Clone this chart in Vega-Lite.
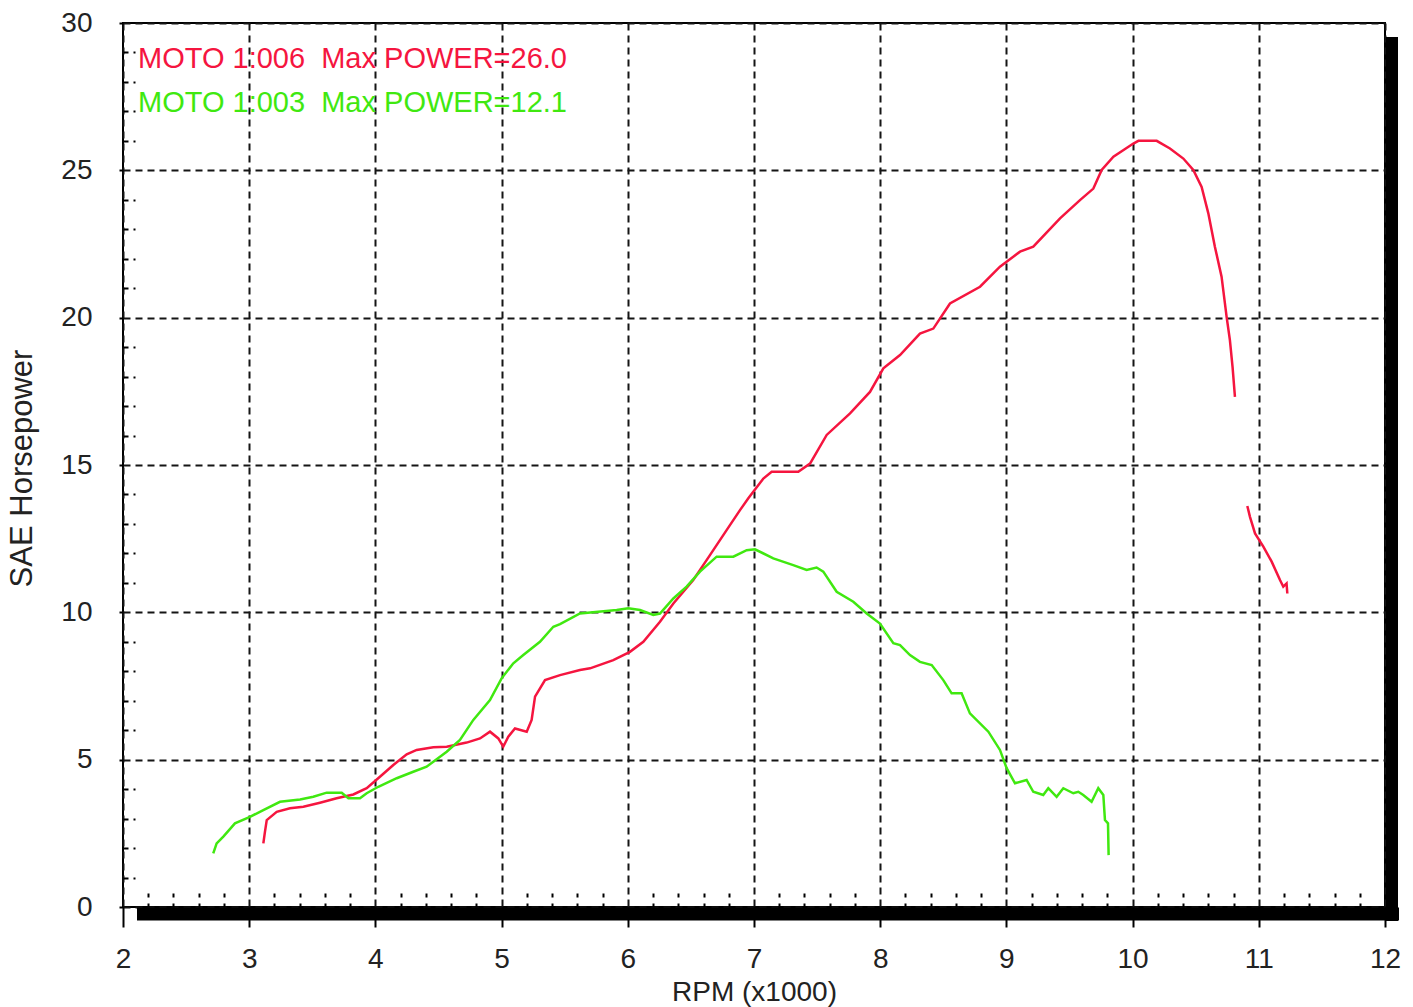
{
  "$schema": "https://vega.github.io/schema/vega-lite/v6.json",
  "width": 1262,
  "height": 884,
  "autosize": {"type": "none"},
  "padding": {"left": 123, "top": 23, "right": 28, "bottom": 100},
  "background": "white",
  "config": {
    "view": {"stroke": "#000", "strokeWidth": 2},
    "font": "Liberation Sans"
  },
  "datasets": {
    "curves": [
      {"run": "MOTO 1:006\u00a0 Max POWER=26.0", "seg": "a", "rpm": 3.112, "hp": 2.16},
      {"run": "MOTO 1:006\u00a0 Max POWER=26.0", "seg": "a", "rpm": 3.125, "hp": 2.56},
      {"run": "MOTO 1:006\u00a0 Max POWER=26.0", "seg": "a", "rpm": 3.139, "hp": 2.95},
      {"run": "MOTO 1:006\u00a0 Max POWER=26.0", "seg": "a", "rpm": 3.218, "hp": 3.23},
      {"run": "MOTO 1:006\u00a0 Max POWER=26.0", "seg": "a", "rpm": 3.323, "hp": 3.35},
      {"run": "MOTO 1:006\u00a0 Max POWER=26.0", "seg": "a", "rpm": 3.429, "hp": 3.40},
      {"run": "MOTO 1:006\u00a0 Max POWER=26.0", "seg": "a", "rpm": 3.561, "hp": 3.54},
      {"run": "MOTO 1:006\u00a0 Max POWER=26.0", "seg": "a", "rpm": 3.693, "hp": 3.69},
      {"run": "MOTO 1:006\u00a0 Max POWER=26.0", "seg": "a", "rpm": 3.825, "hp": 3.82},
      {"run": "MOTO 1:006\u00a0 Max POWER=26.0", "seg": "a", "rpm": 3.931, "hp": 4.03},
      {"run": "MOTO 1:006\u00a0 Max POWER=26.0", "seg": "a", "rpm": 4.036, "hp": 4.42},
      {"run": "MOTO 1:006\u00a0 Max POWER=26.0", "seg": "a", "rpm": 4.142, "hp": 4.82},
      {"run": "MOTO 1:006\u00a0 Max POWER=26.0", "seg": "a", "rpm": 4.248, "hp": 5.18},
      {"run": "MOTO 1:006\u00a0 Max POWER=26.0", "seg": "a", "rpm": 4.327, "hp": 5.33},
      {"run": "MOTO 1:006\u00a0 Max POWER=26.0", "seg": "a", "rpm": 4.459, "hp": 5.42},
      {"run": "MOTO 1:006\u00a0 Max POWER=26.0", "seg": "a", "rpm": 4.565, "hp": 5.44},
      {"run": "MOTO 1:006\u00a0 Max POWER=26.0", "seg": "a", "rpm": 4.723, "hp": 5.58},
      {"run": "MOTO 1:006\u00a0 Max POWER=26.0", "seg": "a", "rpm": 4.829, "hp": 5.72},
      {"run": "MOTO 1:006\u00a0 Max POWER=26.0", "seg": "a", "rpm": 4.908, "hp": 5.95},
      {"run": "MOTO 1:006\u00a0 Max POWER=26.0", "seg": "a", "rpm": 4.974, "hp": 5.72},
      {"run": "MOTO 1:006\u00a0 Max POWER=26.0", "seg": "a", "rpm": 5.013, "hp": 5.44},
      {"run": "MOTO 1:006\u00a0 Max POWER=26.0", "seg": "a", "rpm": 5.053, "hp": 5.78},
      {"run": "MOTO 1:006\u00a0 Max POWER=26.0", "seg": "a", "rpm": 5.106, "hp": 6.06},
      {"run": "MOTO 1:006\u00a0 Max POWER=26.0", "seg": "a", "rpm": 5.199, "hp": 5.95},
      {"run": "MOTO 1:006\u00a0 Max POWER=26.0", "seg": "a", "rpm": 5.238, "hp": 6.35},
      {"run": "MOTO 1:006\u00a0 Max POWER=26.0", "seg": "a", "rpm": 5.265, "hp": 7.14},
      {"run": "MOTO 1:006\u00a0 Max POWER=26.0", "seg": "a", "rpm": 5.344, "hp": 7.70},
      {"run": "MOTO 1:006\u00a0 Max POWER=26.0", "seg": "a", "rpm": 5.463, "hp": 7.87},
      {"run": "MOTO 1:006\u00a0 Max POWER=26.0", "seg": "a", "rpm": 5.621, "hp": 8.04},
      {"run": "MOTO 1:006\u00a0 Max POWER=26.0", "seg": "a", "rpm": 5.701, "hp": 8.10},
      {"run": "MOTO 1:006\u00a0 Max POWER=26.0", "seg": "a", "rpm": 5.885, "hp": 8.38},
      {"run": "MOTO 1:006\u00a0 Max POWER=26.0", "seg": "a", "rpm": 6.017, "hp": 8.66},
      {"run": "MOTO 1:006\u00a0 Max POWER=26.0", "seg": "a", "rpm": 6.123, "hp": 9.00},
      {"run": "MOTO 1:006\u00a0 Max POWER=26.0", "seg": "a", "rpm": 6.255, "hp": 9.68},
      {"run": "MOTO 1:006\u00a0 Max POWER=26.0", "seg": "a", "rpm": 6.361, "hp": 10.30},
      {"run": "MOTO 1:006\u00a0 Max POWER=26.0", "seg": "a", "rpm": 6.519, "hp": 11.10},
      {"run": "MOTO 1:006\u00a0 Max POWER=26.0", "seg": "a", "rpm": 6.651, "hp": 11.94},
      {"run": "MOTO 1:006\u00a0 Max POWER=26.0", "seg": "a", "rpm": 6.783, "hp": 12.79},
      {"run": "MOTO 1:006\u00a0 Max POWER=26.0", "seg": "a", "rpm": 6.889, "hp": 13.47},
      {"run": "MOTO 1:006\u00a0 Max POWER=26.0", "seg": "a", "rpm": 6.955, "hp": 13.87},
      {"run": "MOTO 1:006\u00a0 Max POWER=26.0", "seg": "a", "rpm": 7.074, "hp": 14.54},
      {"run": "MOTO 1:006\u00a0 Max POWER=26.0", "seg": "a", "rpm": 7.140, "hp": 14.77},
      {"run": "MOTO 1:006\u00a0 Max POWER=26.0", "seg": "a", "rpm": 7.351, "hp": 14.77},
      {"run": "MOTO 1:006\u00a0 Max POWER=26.0", "seg": "a", "rpm": 7.444, "hp": 15.05},
      {"run": "MOTO 1:006\u00a0 Max POWER=26.0", "seg": "a", "rpm": 7.576, "hp": 16.02},
      {"run": "MOTO 1:006\u00a0 Max POWER=26.0", "seg": "a", "rpm": 7.761, "hp": 16.75},
      {"run": "MOTO 1:006\u00a0 Max POWER=26.0", "seg": "a", "rpm": 7.919, "hp": 17.48},
      {"run": "MOTO 1:006\u00a0 Max POWER=26.0", "seg": "a", "rpm": 8.025, "hp": 18.28},
      {"run": "MOTO 1:006\u00a0 Max POWER=26.0", "seg": "a", "rpm": 8.157, "hp": 18.73},
      {"run": "MOTO 1:006\u00a0 Max POWER=26.0", "seg": "a", "rpm": 8.315, "hp": 19.46},
      {"run": "MOTO 1:006\u00a0 Max POWER=26.0", "seg": "a", "rpm": 8.421, "hp": 19.63},
      {"run": "MOTO 1:006\u00a0 Max POWER=26.0", "seg": "a", "rpm": 8.553, "hp": 20.48},
      {"run": "MOTO 1:006\u00a0 Max POWER=26.0", "seg": "a", "rpm": 8.791, "hp": 21.05},
      {"run": "MOTO 1:006\u00a0 Max POWER=26.0", "seg": "a", "rpm": 8.949, "hp": 21.73},
      {"run": "MOTO 1:006\u00a0 Max POWER=26.0", "seg": "a", "rpm": 9.108, "hp": 22.24},
      {"run": "MOTO 1:006\u00a0 Max POWER=26.0", "seg": "a", "rpm": 9.213, "hp": 22.41},
      {"run": "MOTO 1:006\u00a0 Max POWER=26.0", "seg": "a", "rpm": 9.425, "hp": 23.37},
      {"run": "MOTO 1:006\u00a0 Max POWER=26.0", "seg": "a", "rpm": 9.583, "hp": 23.99},
      {"run": "MOTO 1:006\u00a0 Max POWER=26.0", "seg": "a", "rpm": 9.689, "hp": 24.38},
      {"run": "MOTO 1:006\u00a0 Max POWER=26.0", "seg": "a", "rpm": 9.755, "hp": 25.01},
      {"run": "MOTO 1:006\u00a0 Max POWER=26.0", "seg": "a", "rpm": 9.848, "hp": 25.46},
      {"run": "MOTO 1:006\u00a0 Max POWER=26.0", "seg": "a", "rpm": 10.006, "hp": 25.91},
      {"run": "MOTO 1:006\u00a0 Max POWER=26.0", "seg": "a", "rpm": 10.046, "hp": 26.00},
      {"run": "MOTO 1:006\u00a0 Max POWER=26.0", "seg": "a", "rpm": 10.191, "hp": 26.00},
      {"run": "MOTO 1:006\u00a0 Max POWER=26.0", "seg": "a", "rpm": 10.296, "hp": 25.74},
      {"run": "MOTO 1:006\u00a0 Max POWER=26.0", "seg": "a", "rpm": 10.402, "hp": 25.40},
      {"run": "MOTO 1:006\u00a0 Max POWER=26.0", "seg": "a", "rpm": 10.481, "hp": 25.01},
      {"run": "MOTO 1:006\u00a0 Max POWER=26.0", "seg": "a", "rpm": 10.547, "hp": 24.44},
      {"run": "MOTO 1:006\u00a0 Max POWER=26.0", "seg": "a", "rpm": 10.600, "hp": 23.54},
      {"run": "MOTO 1:006\u00a0 Max POWER=26.0", "seg": "a", "rpm": 10.652, "hp": 22.41},
      {"run": "MOTO 1:006\u00a0 Max POWER=26.0", "seg": "a", "rpm": 10.705, "hp": 21.39},
      {"run": "MOTO 1:006\u00a0 Max POWER=26.0", "seg": "a", "rpm": 10.745, "hp": 20.03},
      {"run": "MOTO 1:006\u00a0 Max POWER=26.0", "seg": "a", "rpm": 10.771, "hp": 19.24},
      {"run": "MOTO 1:006\u00a0 Max POWER=26.0", "seg": "a", "rpm": 10.792, "hp": 18.33},
      {"run": "MOTO 1:006\u00a0 Max POWER=26.0", "seg": "a", "rpm": 10.811, "hp": 17.31},
      {"run": "MOTO 1:006\u00a0 Max POWER=26.0", "seg": "b", "rpm": 10.909, "hp": 13.61},
      {"run": "MOTO 1:006\u00a0 Max POWER=26.0", "seg": "b", "rpm": 10.930, "hp": 13.24},
      {"run": "MOTO 1:006\u00a0 Max POWER=26.0", "seg": "b", "rpm": 10.970, "hp": 12.68},
      {"run": "MOTO 1:006\u00a0 Max POWER=26.0", "seg": "b", "rpm": 11.036, "hp": 12.23},
      {"run": "MOTO 1:006\u00a0 Max POWER=26.0", "seg": "b", "rpm": 11.102, "hp": 11.72},
      {"run": "MOTO 1:006\u00a0 Max POWER=26.0", "seg": "b", "rpm": 11.168, "hp": 11.10},
      {"run": "MOTO 1:006\u00a0 Max POWER=26.0", "seg": "b", "rpm": 11.194, "hp": 10.87},
      {"run": "MOTO 1:006\u00a0 Max POWER=26.0", "seg": "b", "rpm": 11.220, "hp": 10.98},
      {"run": "MOTO 1:006\u00a0 Max POWER=26.0", "seg": "b", "rpm": 11.226, "hp": 10.64},
      {"run": "MOTO 1:003\u00a0 Max POWER=12.1", "seg": "a", "rpm": 2.715, "hp": 1.82},
      {"run": "MOTO 1:003\u00a0 Max POWER=12.1", "seg": "a", "rpm": 2.742, "hp": 2.16},
      {"run": "MOTO 1:003\u00a0 Max POWER=12.1", "seg": "a", "rpm": 2.795, "hp": 2.39},
      {"run": "MOTO 1:003\u00a0 Max POWER=12.1", "seg": "a", "rpm": 2.887, "hp": 2.84},
      {"run": "MOTO 1:003\u00a0 Max POWER=12.1", "seg": "a", "rpm": 3.006, "hp": 3.06},
      {"run": "MOTO 1:003\u00a0 Max POWER=12.1", "seg": "a", "rpm": 3.112, "hp": 3.29},
      {"run": "MOTO 1:003\u00a0 Max POWER=12.1", "seg": "a", "rpm": 3.244, "hp": 3.57},
      {"run": "MOTO 1:003\u00a0 Max POWER=12.1", "seg": "a", "rpm": 3.403, "hp": 3.65},
      {"run": "MOTO 1:003\u00a0 Max POWER=12.1", "seg": "a", "rpm": 3.508, "hp": 3.74},
      {"run": "MOTO 1:003\u00a0 Max POWER=12.1", "seg": "a", "rpm": 3.614, "hp": 3.88},
      {"run": "MOTO 1:003\u00a0 Max POWER=12.1", "seg": "a", "rpm": 3.733, "hp": 3.88},
      {"run": "MOTO 1:003\u00a0 Max POWER=12.1", "seg": "a", "rpm": 3.786, "hp": 3.69},
      {"run": "MOTO 1:003\u00a0 Max POWER=12.1", "seg": "a", "rpm": 3.878, "hp": 3.69},
      {"run": "MOTO 1:003\u00a0 Max POWER=12.1", "seg": "a", "rpm": 3.931, "hp": 3.86},
      {"run": "MOTO 1:003\u00a0 Max POWER=12.1", "seg": "a", "rpm": 4.023, "hp": 4.08},
      {"run": "MOTO 1:003\u00a0 Max POWER=12.1", "seg": "a", "rpm": 4.169, "hp": 4.37},
      {"run": "MOTO 1:003\u00a0 Max POWER=12.1", "seg": "a", "rpm": 4.300, "hp": 4.59},
      {"run": "MOTO 1:003\u00a0 Max POWER=12.1", "seg": "a", "rpm": 4.406, "hp": 4.76},
      {"run": "MOTO 1:003\u00a0 Max POWER=12.1", "seg": "a", "rpm": 4.565, "hp": 5.27},
      {"run": "MOTO 1:003\u00a0 Max POWER=12.1", "seg": "a", "rpm": 4.670, "hp": 5.67},
      {"run": "MOTO 1:003\u00a0 Max POWER=12.1", "seg": "a", "rpm": 4.776, "hp": 6.35},
      {"run": "MOTO 1:003\u00a0 Max POWER=12.1", "seg": "a", "rpm": 4.908, "hp": 7.02},
      {"run": "MOTO 1:003\u00a0 Max POWER=12.1", "seg": "a", "rpm": 5.000, "hp": 7.76},
      {"run": "MOTO 1:003\u00a0 Max POWER=12.1", "seg": "a", "rpm": 5.093, "hp": 8.27},
      {"run": "MOTO 1:003\u00a0 Max POWER=12.1", "seg": "a", "rpm": 5.172, "hp": 8.55},
      {"run": "MOTO 1:003\u00a0 Max POWER=12.1", "seg": "a", "rpm": 5.304, "hp": 9.00},
      {"run": "MOTO 1:003\u00a0 Max POWER=12.1", "seg": "a", "rpm": 5.410, "hp": 9.51},
      {"run": "MOTO 1:003\u00a0 Max POWER=12.1", "seg": "a", "rpm": 5.463, "hp": 9.60},
      {"run": "MOTO 1:003\u00a0 Max POWER=12.1", "seg": "a", "rpm": 5.621, "hp": 9.96},
      {"run": "MOTO 1:003\u00a0 Max POWER=12.1", "seg": "a", "rpm": 5.912, "hp": 10.08},
      {"run": "MOTO 1:003\u00a0 Max POWER=12.1", "seg": "a", "rpm": 6.004, "hp": 10.14},
      {"run": "MOTO 1:003\u00a0 Max POWER=12.1", "seg": "a", "rpm": 6.097, "hp": 10.08},
      {"run": "MOTO 1:003\u00a0 Max POWER=12.1", "seg": "a", "rpm": 6.202, "hp": 9.91},
      {"run": "MOTO 1:003\u00a0 Max POWER=12.1", "seg": "a", "rpm": 6.255, "hp": 9.96},
      {"run": "MOTO 1:003\u00a0 Max POWER=12.1", "seg": "a", "rpm": 6.361, "hp": 10.47},
      {"run": "MOTO 1:003\u00a0 Max POWER=12.1", "seg": "a", "rpm": 6.466, "hp": 10.87},
      {"run": "MOTO 1:003\u00a0 Max POWER=12.1", "seg": "a", "rpm": 6.572, "hp": 11.38},
      {"run": "MOTO 1:003\u00a0 Max POWER=12.1", "seg": "a", "rpm": 6.704, "hp": 11.89},
      {"run": "MOTO 1:003\u00a0 Max POWER=12.1", "seg": "a", "rpm": 6.836, "hp": 11.89},
      {"run": "MOTO 1:003\u00a0 Max POWER=12.1", "seg": "a", "rpm": 6.942, "hp": 12.11},
      {"run": "MOTO 1:003\u00a0 Max POWER=12.1", "seg": "a", "rpm": 7.008, "hp": 12.14},
      {"run": "MOTO 1:003\u00a0 Max POWER=12.1", "seg": "a", "rpm": 7.153, "hp": 11.83},
      {"run": "MOTO 1:003\u00a0 Max POWER=12.1", "seg": "a", "rpm": 7.311, "hp": 11.60},
      {"run": "MOTO 1:003\u00a0 Max POWER=12.1", "seg": "a", "rpm": 7.417, "hp": 11.44},
      {"run": "MOTO 1:003\u00a0 Max POWER=12.1", "seg": "a", "rpm": 7.496, "hp": 11.52},
      {"run": "MOTO 1:003\u00a0 Max POWER=12.1", "seg": "a", "rpm": 7.549, "hp": 11.38},
      {"run": "MOTO 1:003\u00a0 Max POWER=12.1", "seg": "a", "rpm": 7.655, "hp": 10.70},
      {"run": "MOTO 1:003\u00a0 Max POWER=12.1", "seg": "a", "rpm": 7.787, "hp": 10.36},
      {"run": "MOTO 1:003\u00a0 Max POWER=12.1", "seg": "a", "rpm": 7.893, "hp": 9.96},
      {"run": "MOTO 1:003\u00a0 Max POWER=12.1", "seg": "a", "rpm": 7.998, "hp": 9.62},
      {"run": "MOTO 1:003\u00a0 Max POWER=12.1", "seg": "a", "rpm": 8.104, "hp": 8.95},
      {"run": "MOTO 1:003\u00a0 Max POWER=12.1", "seg": "a", "rpm": 8.157, "hp": 8.89},
      {"run": "MOTO 1:003\u00a0 Max POWER=12.1", "seg": "a", "rpm": 8.236, "hp": 8.55},
      {"run": "MOTO 1:003\u00a0 Max POWER=12.1", "seg": "a", "rpm": 8.315, "hp": 8.32},
      {"run": "MOTO 1:003\u00a0 Max POWER=12.1", "seg": "a", "rpm": 8.408, "hp": 8.21},
      {"run": "MOTO 1:003\u00a0 Max POWER=12.1", "seg": "a", "rpm": 8.500, "hp": 7.70},
      {"run": "MOTO 1:003\u00a0 Max POWER=12.1", "seg": "a", "rpm": 8.566, "hp": 7.25},
      {"run": "MOTO 1:003\u00a0 Max POWER=12.1", "seg": "a", "rpm": 8.645, "hp": 7.25},
      {"run": "MOTO 1:003\u00a0 Max POWER=12.1", "seg": "a", "rpm": 8.711, "hp": 6.57},
      {"run": "MOTO 1:003\u00a0 Max POWER=12.1", "seg": "a", "rpm": 8.857, "hp": 5.95},
      {"run": "MOTO 1:003\u00a0 Max POWER=12.1", "seg": "a", "rpm": 8.949, "hp": 5.33},
      {"run": "MOTO 1:003\u00a0 Max POWER=12.1", "seg": "a", "rpm": 9.002, "hp": 4.71},
      {"run": "MOTO 1:003\u00a0 Max POWER=12.1", "seg": "a", "rpm": 9.068, "hp": 4.20},
      {"run": "MOTO 1:003\u00a0 Max POWER=12.1", "seg": "a", "rpm": 9.160, "hp": 4.31},
      {"run": "MOTO 1:003\u00a0 Max POWER=12.1", "seg": "a", "rpm": 9.213, "hp": 3.91},
      {"run": "MOTO 1:003\u00a0 Max POWER=12.1", "seg": "a", "rpm": 9.292, "hp": 3.80},
      {"run": "MOTO 1:003\u00a0 Max POWER=12.1", "seg": "a", "rpm": 9.332, "hp": 4.03},
      {"run": "MOTO 1:003\u00a0 Max POWER=12.1", "seg": "a", "rpm": 9.398, "hp": 3.74},
      {"run": "MOTO 1:003\u00a0 Max POWER=12.1", "seg": "a", "rpm": 9.451, "hp": 4.03},
      {"run": "MOTO 1:003\u00a0 Max POWER=12.1", "seg": "a", "rpm": 9.530, "hp": 3.86},
      {"run": "MOTO 1:003\u00a0 Max POWER=12.1", "seg": "a", "rpm": 9.570, "hp": 3.91},
      {"run": "MOTO 1:003\u00a0 Max POWER=12.1", "seg": "a", "rpm": 9.609, "hp": 3.80},
      {"run": "MOTO 1:003\u00a0 Max POWER=12.1", "seg": "a", "rpm": 9.675, "hp": 3.57},
      {"run": "MOTO 1:003\u00a0 Max POWER=12.1", "seg": "a", "rpm": 9.728, "hp": 4.03},
      {"run": "MOTO 1:003\u00a0 Max POWER=12.1", "seg": "a", "rpm": 9.768, "hp": 3.80},
      {"run": "MOTO 1:003\u00a0 Max POWER=12.1", "seg": "a", "rpm": 9.781, "hp": 2.95},
      {"run": "MOTO 1:003\u00a0 Max POWER=12.1", "seg": "a", "rpm": 9.805, "hp": 2.84},
      {"run": "MOTO 1:003\u00a0 Max POWER=12.1", "seg": "a", "rpm": 9.81, "hp": 1.76}
    ]
  },
  "data": {"name": "curves"},
  "layer": [
    {
      "mark": {"type": "line", "strokeWidth": 2.5, "interpolate": "linear"},
      "encoding": {
        "x": {
          "field": "rpm", "type": "quantitative",
          "scale": {"domain": [2, 12], "nice": false, "zero": false},
          "axis": {
            "orient": "bottom",
            "values": [2, 3, 4, 5, 6, 7, 8, 9, 10, 11, 12],
            "format": "d",
            "domain": false,
            "grid": true, "gridColor": "#151515", "gridDash": [7, 5], "gridWidth": 2, "gridOpacity": 1,
            "ticks": true, "tickSize": 20, "tickColor": "#000", "tickWidth": 2,
            "labelFontSize": 28, "labelColor": "#222", "labelPadding": 18, "labelFlush": false, "labelOverlap": false,
            "title": "RPM (x1000)", "titleFontSize": 28, "titleFontWeight": "normal", "titleColor": "#222",
            "titleX": 631, "titleY": 93, "titleBaseline": "alphabetic", "titleAlign": "center"
          }
        },
        "y": {
          "field": "hp", "type": "quantitative",
          "scale": {"domain": [0, 30], "nice": false},
          "axis": {
            "orient": "left",
            "values": [0, 5, 10, 15, 20, 25, 30],
            "domain": false,
            "grid": true, "gridColor": "#151515", "gridDash": [7, 5], "gridWidth": 2, "gridOpacity": 1,
            "ticks": true, "tickSize": 4, "tickColor": "#000", "tickWidth": 2,
            "labelFontSize": 28, "labelColor": "#222", "labelPadding": 27, "labelFlush": false, "labelOverlap": false,
            "title": "SAE Horsepower", "titleFontSize": 31, "titleFontWeight": "normal", "titleColor": "#222",
            "titleX": -101, "titleY": 445, "titleAngle": -90, "titleBaseline": "middle", "titleAlign": "center"
          }
        },
        "color": {
          "field": "run", "type": "nominal",
          "scale": {
            "domain": ["MOTO 1:006\u00a0 Max POWER=26.0", "MOTO 1:003\u00a0 Max POWER=12.1"],
            "range": ["#f5153f", "#40e810"]
          },
          "legend": {
            "orient": "none", "legendX": -14, "legendY": 21, "title": null,
            "symbolSize": 0, "symbolStrokeWidth": 0, "symbolOpacity": 0,
            "labelFontSize": 29, "labelLimit": 0, "labelOffset": 0, "rowPadding": 14, "padding": 0,
            "encode": {"labels": {"update": {"fill": {"scale": "color", "field": "value"}}}}
          }
        },
        "detail": {"field": "seg"}
      }
    },
    {
      "mark": {"type": "point", "opacity": 0},
      "encoding": {
        "x": {
          "field": "rpm", "type": "quantitative",
          "axis": {
            "orient": "bottom",
            "values": [2.2, 2.4, 2.6, 2.8, 3.2, 3.4, 3.6, 3.8, 4.2, 4.4, 4.6, 4.8, 5.2, 5.4, 5.6, 5.8, 6.2, 6.4, 6.6, 6.8, 7.2, 7.4, 7.6, 7.8, 8.2, 8.4, 8.6, 8.8, 9.2, 9.4, 9.6, 9.8, 10.2, 10.4, 10.6, 10.8, 11.2, 11.4, 11.6, 11.8],
            "domain": false, "grid": false, "labels": false,
            "ticks": true, "tickSize": -15, "tickDash": [4, 6], "tickWidth": 2, "tickColor": "#000",
            "title": null
          }
        },
        "y": {
          "field": "hp", "type": "quantitative",
          "axis": {
            "orient": "left",
            "values": [1, 2, 3, 4, 6, 7, 8, 9, 11, 12, 13, 14, 16, 17, 18, 19, 21, 22, 23, 24, 26, 27, 28, 29],
            "domain": false, "grid": false, "labels": false,
            "ticks": true, "tickSize": -12, "tickDash": [5, 5], "tickWidth": 2, "tickColor": "#000",
            "title": null
          }
        }
      }
    },
    {
      "mark": {"type": "point", "opacity": 0},
      "encoding": {
        "x": {
          "field": "rpm", "type": "quantitative",
          "axis": {
            "orient": "bottom", "domain": true, "domainColor": "#000", "domainWidth": 13, "domainCap": "butt",
            "translate": 14, "offset": -7,
            "ticks": false, "labels": false, "grid": false, "title": null
          }
        },
        "y": {
          "field": "hp", "type": "quantitative",
          "axis": {
            "orient": "right", "domain": true, "domainColor": "#000", "domainWidth": 12, "domainCap": "butt",
            "translate": 14, "offset": -7,
            "ticks": false, "labels": false, "grid": false, "title": null
          }
        }
      }
    }
  ],
  "resolve": {"axis": {"x": "independent", "y": "independent"}}
}
